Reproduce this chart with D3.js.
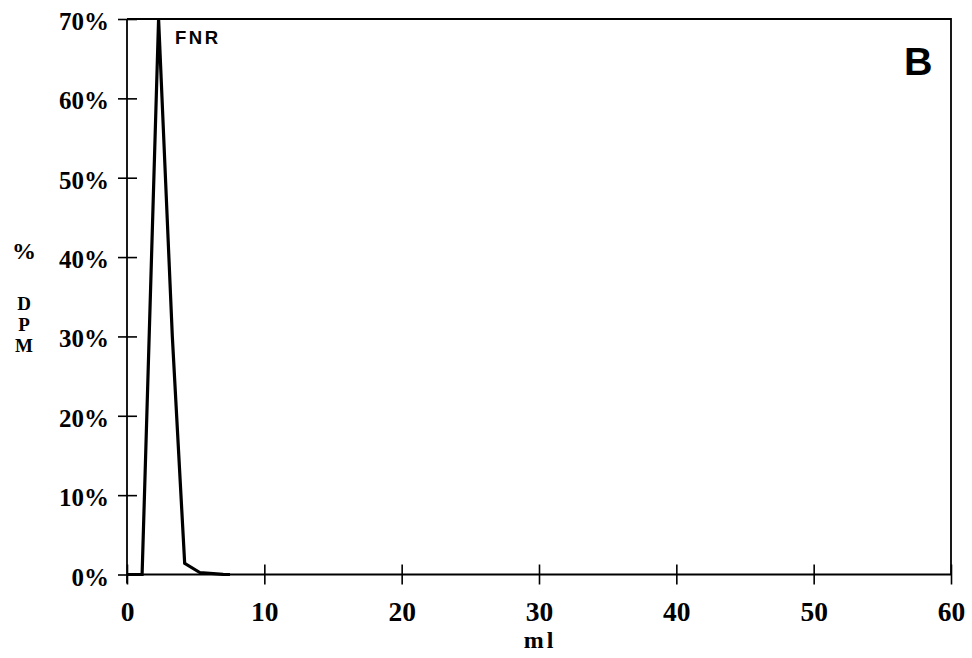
<!DOCTYPE html>
<html>
<head>
<meta charset="utf-8">
<script src="https://cdn.jsdelivr.net/npm/d3@7/dist/d3.min.js"></script>
<style>
  html, body { margin: 0; padding: 0; background: #fff; }
  svg { display: block; }
  .serif-bold { font-family: "Liberation Serif", "DejaVu Serif", serif; font-weight: bold; fill: #000; }
</style>
</head>
<body>
<svg id="chart" width="972" height="658"></svg>
<script>
// Elution profile: volume (ml) vs percent of total DPM
const volumeMl = [0, 1.1, 2.3, 3.3, 4.2, 5.3, 7.0, 7.5];
const dpmPercent = [0, 0, 70, 30, 1.4, 0.25, 0.02, 0];
const xTickValues = [0, 10, 20, 30, 40, 50, 60];
const yTickValues = [0, 10, 20, 30, 40, 50, 60, 70];
const seriesName = "FNR";
const panelLetter = "B";

const svg = d3.select("#chart");
const plotLeft = 127, plotRight = 951, plotTop = 19, plotBottom = 574.5;

const x = d3.scaleLinear().domain([0, 60]).range([plotLeft, plotRight]);
const y = d3.scaleLinear().domain([0, 70]).range([plotBottom, plotTop]);

// Frame: top and right borders
svg.append("path")
  .attr("d", `M${plotLeft},${plotTop}H${plotRight}V${plotBottom}`)
  .attr("fill", "none").attr("stroke", "#000").attr("stroke-width", 1.8);

// Y axis with ticks crossing the line
const yAxis = d3.axisLeft(y).tickValues(yTickValues).tickSize(0).tickFormat(d => d + "%");
const yg = svg.append("g").attr("transform", `translate(${plotLeft},0)`).call(yAxis);
yg.select(".domain").remove();
yg.selectAll(".tick text").attr("class", "serif-bold")
  .style("font-size", "25px").attr("x", -18).attr("dy", "0.42em");
yg.selectAll(".tick").append("line").attr("x1", -9).attr("x2", 10)
  .attr("stroke", "#000").attr("stroke-width", 1.6);
svg.append("line").attr("x1", plotLeft).attr("x2", plotLeft).attr("y1", plotTop).attr("y2", plotBottom + 9)
  .attr("stroke", "#000").attr("stroke-width", 1.8);

// X axis with ticks crossing the line
const xAxis = d3.axisBottom(x).tickValues(xTickValues).tickSize(0).tickFormat(d3.format("d"));
const xg = svg.append("g").attr("transform", `translate(0,${plotBottom})`).call(xAxis);
xg.select(".domain").remove();
xg.selectAll(".tick text").attr("class", "serif-bold")
  .style("font-size", "27.5px").attr("y", 46).attr("dy", "0");
xg.selectAll(".tick").append("line").attr("y1", -10).attr("y2", 10)
  .attr("stroke", "#000").attr("stroke-width", 1.6);
svg.append("line").attr("x1", plotLeft).attr("x2", plotRight).attr("y1", plotBottom).attr("y2", plotBottom)
  .attr("stroke", "#000").attr("stroke-width", 2);

// Data line
const line = d3.line().x((d, i) => x(volumeMl[i])).y(d => y(d));
svg.append("path").datum(dpmPercent)
  .attr("d", line)
  .attr("fill", "none").attr("stroke", "#000").attr("stroke-width", 3.2)
  .attr("stroke-linejoin", "miter");

// Series label and panel letter
svg.append("text").attr("x", 175).attr("y", 43.5)
  .attr("font-family", "Liberation Sans, Arial, sans-serif").attr("font-weight", "bold")
  .attr("font-size", 18.5).attr("letter-spacing", 2.5).text(seriesName);
svg.append("text").attr("x", 904).attr("y", 75)
  .attr("font-family", "Liberation Sans, Arial, sans-serif").attr("font-weight", "bold")
  .attr("font-size", 39.5).text(panelLetter);

// Axis titles
svg.append("text").attr("class", "serif-bold").attr("x", 540).attr("y", 648)
  .attr("text-anchor", "middle").attr("letter-spacing", 3)
  .style("font-size", "24px").text("ml");
svg.append("text").attr("class", "serif-bold").attr("x", 24).attr("y", 259)
  .attr("text-anchor", "middle").style("font-size", "24px").text("%");
const yTitle = svg.append("text").attr("class", "serif-bold")
  .attr("text-anchor", "middle").style("font-size", "19px");
["D", "P", "M"].forEach((ch, i) => {
  yTitle.append("tspan").attr("x", 24).attr("y", 310 + i * 21).text(ch);
});
</script>
</body>
</html>
